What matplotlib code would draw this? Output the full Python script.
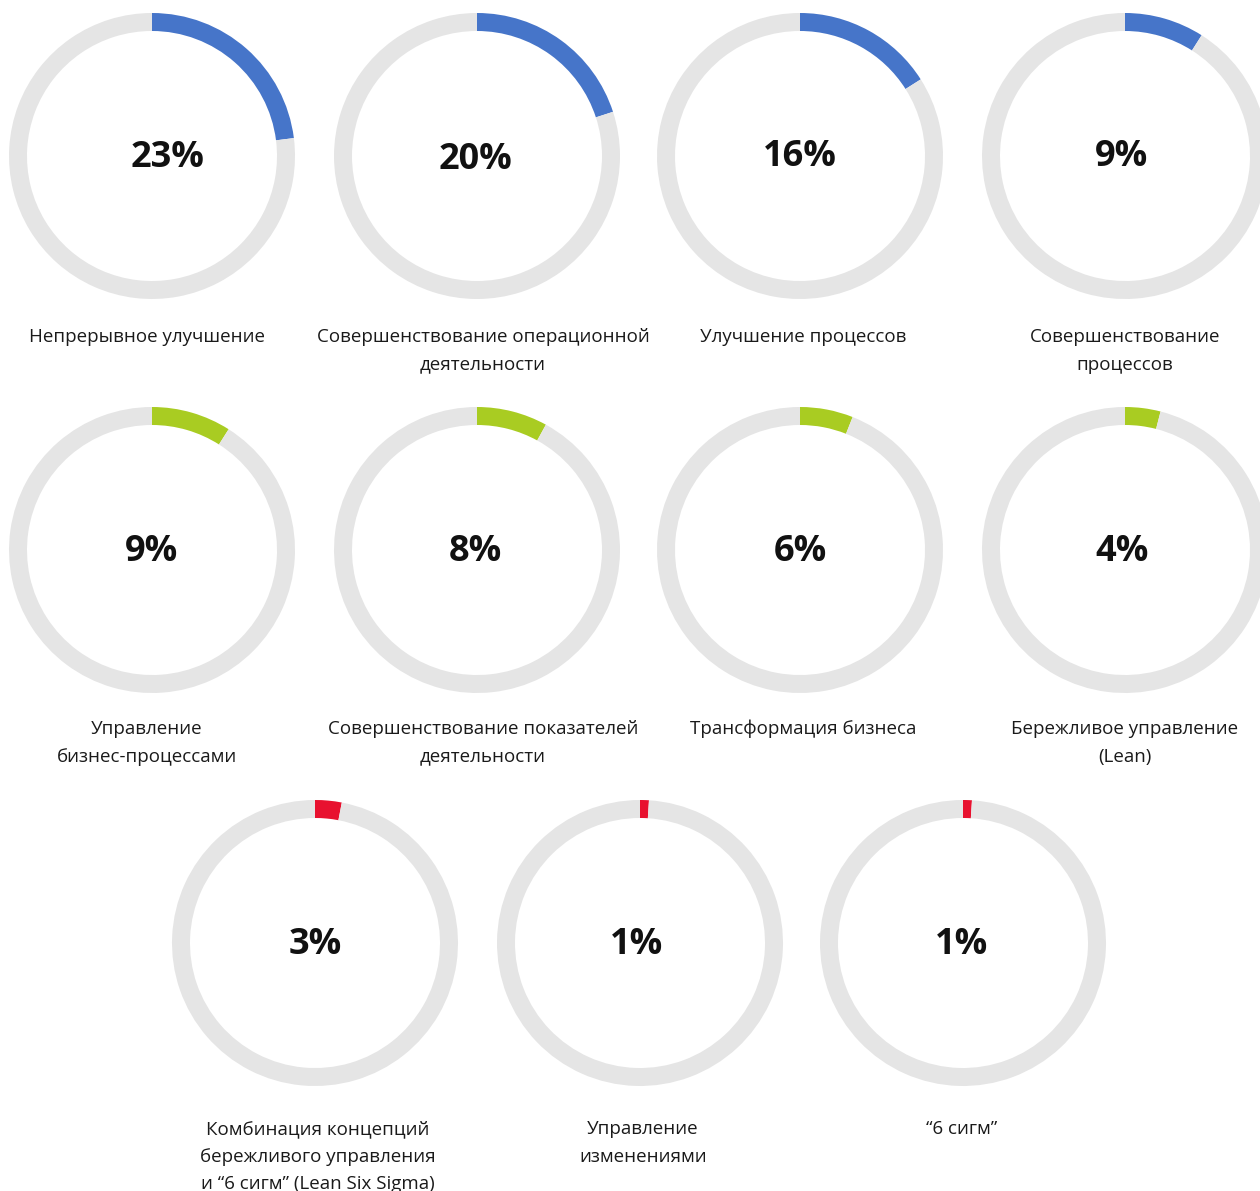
import matplotlib
matplotlib.use("Agg")
import matplotlib.pyplot as plt

plt.rcParams['font.family'] = ['Open Sans', 'DejaVu Sans']

# ---- data ----
labels = [
    "Непрерывное улучшение",
    "Совершенствование операционной\nдеятельности",
    "Улучшение процессов",
    "Совершенствование\nпроцессов",
    "Управление\nбизнес-процессами",
    "Совершенствование показателей\nдеятельности",
    "Трансформация бизнеса",
    "Бережливое управление\n(Lean)",
    "Комбинация концепций\nбережливого управления\nи “6 сигм” (Lean Six Sigma)",
    "Управление\nизменениями",
    "“6 сигм”",
]
values = [23, 20, 16, 9, 9, 8, 6, 4, 3, 1, 1]
value_labels = ["23%", "20%", "16%", "9%", "9%", "8%", "6%", "4%", "3%", "1%", "1%"]
groups = ["blue"] * 4 + ["green"] * 4 + ["red"] * 3

# ---- layout / style ----
W, H = 1260, 1191
palette = {"blue": "#4675C9", "green": "#A9CC22", "red": "#E8112F"}
track = "#E5E5E5"
centers = [(152, 156), (477, 156), (800, 156), (1125, 156),
           (152, 550), (477, 550), (800, 550), (1125, 550),
           (315, 943), (640, 943), (963, 943)]
pct_pos = [(168, 158), (475, 160), (800, 157), (1122, 157),
           (151, 552), (475, 552), (800, 552), (1122, 552),
           (315, 945), (637, 945), (962, 945)]
label_pos = [(147, 336), (483, 336), (803, 336), (1125, 336),
             (147, 728), (483, 728), (803, 728), (1125, 728),
             (318, 1128), (643, 1128), (962, 1128)]
R, RW = 143, 18

fig = plt.figure(figsize=(W / 100, H / 100), dpi=100)
ax = fig.add_axes([0, 0, 1, 1])
ax.set_xlim(0, W)
ax.set_ylim(0, H)
ax.set_aspect('equal')
ax.axis('off')

for v, g, (cx, cy), txt, (px, py), lab, (lx, ly) in zip(
        values, groups, centers, value_labels, pct_pos, labels, label_pos):
    ax.pie([v, 100 - v], colors=[palette[g], track], radius=R,
           center=(cx, H - cy), startangle=90, counterclock=False,
           wedgeprops=dict(width=RW, linewidth=0), frame=True)
    ax.text(px, H - py, txt, ha='center', va='center', fontsize=26,
            fontweight='bold', color='#111111')
    ax.text(lx, H - ly + 8, lab, ha='center', va='top', fontsize=13.5,
            color='#1a1a1a', linespacing=1.68)

ax.set_xlim(0, W)
ax.set_ylim(0, H)
ax.axis('off')
fig.savefig("out.png", dpi=100, facecolor='white')
